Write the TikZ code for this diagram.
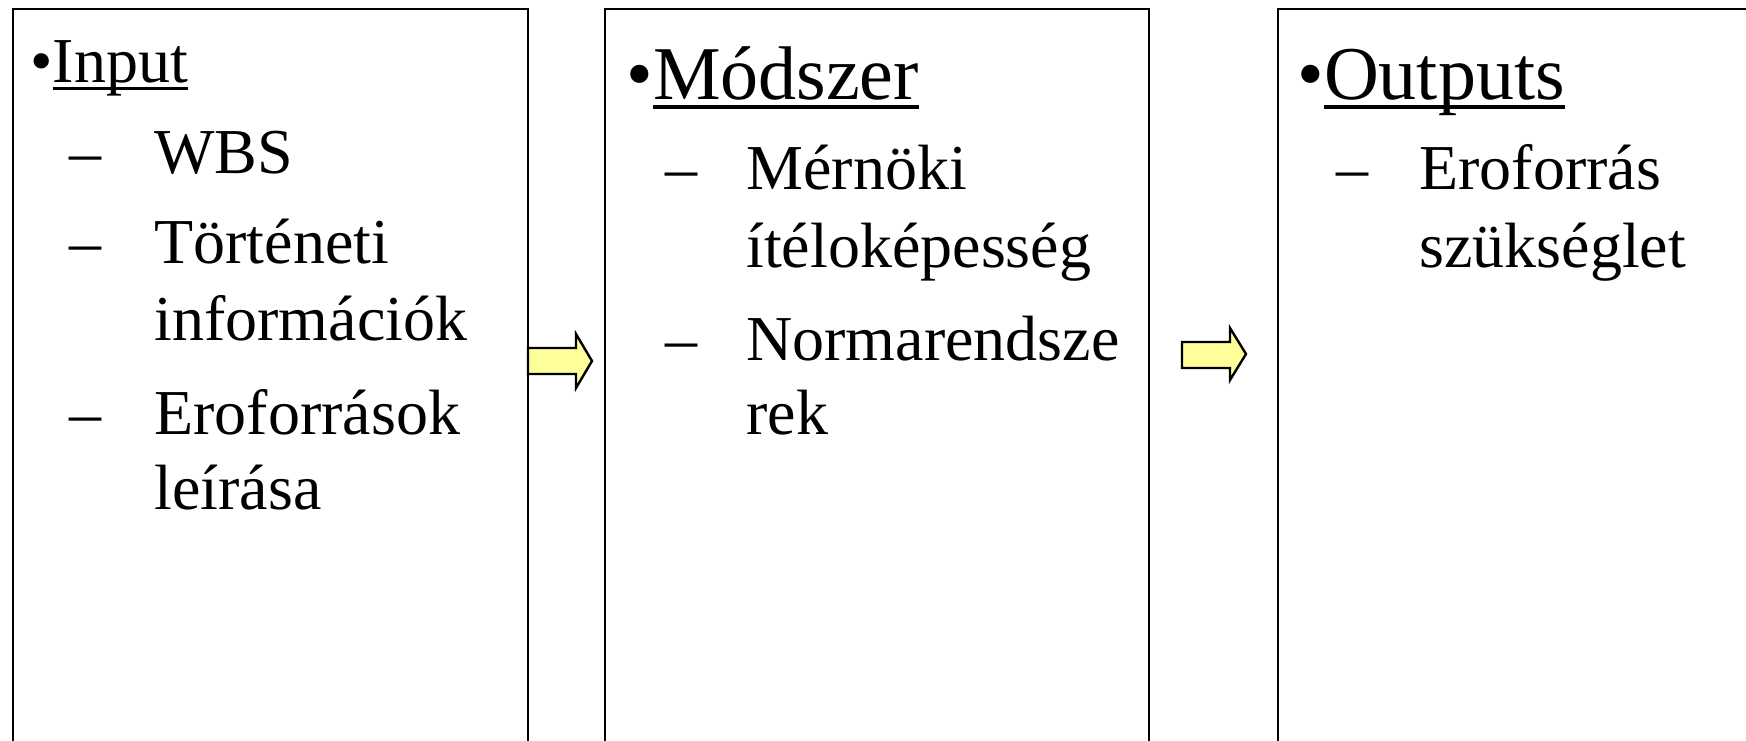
\documentclass[tikz,border=0pt]{standalone}
\usepackage{fontspec}
\setmainfont{Liberation Serif}
\usepackage{xcolor}
\definecolor{arrowyellow}{HTML}{FFFF99}
\newcommand\hdline[1]{\setbox0\hbox{#1}\rlap{\rule[-0.13em]{\wd0}{0.05em}}\box0}
\tikzset{
  frame/.style={draw=black,line width=1pt},
  itemtext/.style={anchor=base west,inner sep=0pt,font=\fontsize{32}{38}\selectfont},
  headtext/.style={anchor=base west,inner sep=0pt,font=\fontsize{38}{46}\selectfont},
  blockarrow/.style={draw=black,line width=1.2pt,fill=arrowyellow,line join=miter}
}
\begin{document}
\begin{tikzpicture}[x=0.5pt,y=-0.5pt]
            \useasboundingbox (0,0) rectangle (1746,740);
            \clip (0,0) rectangle (1746,740);
            \draw[frame](13,9) rectangle (528,800);
            \draw[frame](605,9) rectangle (1149,800);
            \draw[frame](1278,9) rectangle (1800,800);

            \draw[blockarrow](528,348) -- (576,348) -- (576,334) -- (592,361) -- (576,388) -- (576,374) -- (528,374) -- cycle;
            \draw[blockarrow](1182,342) -- (1230,342) -- (1230,328) -- (1246,354) -- (1230,380) -- (1230,368) -- (1182,368) -- cycle;

            \node[itemtext] (inhead) at (30,82){•\hdline{Input}};
            \node[itemtext] (indasha) at (69,173){–};
            \node[itemtext] (inwbs) at (154,173){WBS};
            \node[itemtext] (indashb) at (69,263){–};
            \node[itemtext] (intorta) at (154,263){Történeti};
            \node[itemtext] (intortb) at (154,340){információk};
            \node[itemtext] (indashc) at (69,434){–};
            \node[itemtext] (inerea) at (154,434){Eroforrások};
            \node[itemtext] (inereb) at (154,509){leírása};

            \node[headtext] (mohead) at (626,99){•\hdline{Módszer}};
            \node[itemtext] (modasha) at (665,189){–};
            \node[itemtext] (momera) at (746,189){Mérnöki};
            \node[itemtext] (momerb) at (746,267){ítéloképesség};
            \node[itemtext] (modashb) at (665,360){–};
            \node[itemtext] (monora) at (746,360){Normarendsze};
            \node[itemtext] (monorb) at (746,434){rek};

            \node[headtext] (outhead) at (1297,99){•\hdline{Outputs}};
            \node[itemtext] (outdash) at (1336,189){–};
            \node[itemtext] (outera) at (1419,189){Eroforrás};
            \node[itemtext] (outerb) at (1419,267){szükséglet};
        \end{tikzpicture}
\end{document}
